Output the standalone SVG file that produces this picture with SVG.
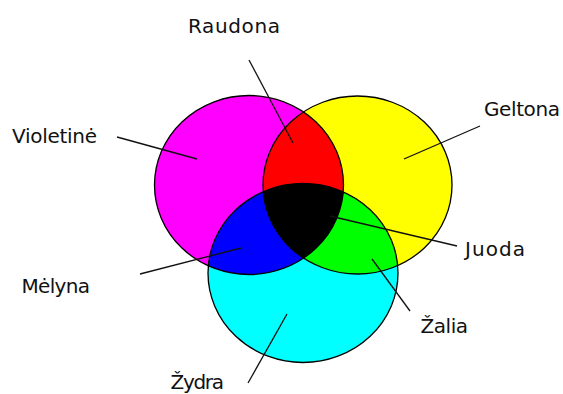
<svg xmlns="http://www.w3.org/2000/svg" width="563" height="394" viewBox="0 0 563 394">
<style>
.lbl{font-family:"DejaVu Sans",Verdana,sans-serif;font-size:20px;fill:#111}
.edge{fill:none;stroke:#000;stroke-width:1.3}
.lead{stroke:#111;stroke-width:1.3;fill:none}
</style>
<defs>
<ellipse id="eM" cx="249" cy="185" rx="94.5" ry="89.5"/>
<ellipse id="eY" cx="357.5" cy="185" rx="94.5" ry="89"/>
<ellipse id="eC" cx="303" cy="273" rx="95" ry="89.5"/>
<clipPath id="cM"><use href="#eM"/></clipPath>
<clipPath id="cY"><use href="#eY"/></clipPath>
</defs>
<rect width="563" height="394" fill="#fff"/>
<g id="violetine"><use href="#eM" fill="#FF00FF"/></g>
<g id="geltona"><use href="#eY" fill="#FFFF00"/></g>
<g id="zydra"><use href="#eC" fill="#00FFFF"/></g>
<g id="raudona"><use href="#eY" fill="#FF0000" clip-path="url(#cM)"/></g>
<g id="melyna"><use href="#eC" fill="#0000FF" clip-path="url(#cM)"/></g>
<g id="zalia"><use href="#eC" fill="#00FF00" clip-path="url(#cY)"/></g>
<g id="juoda"><g clip-path="url(#cM)"><use href="#eC" fill="#000" clip-path="url(#cY)"/></g></g>
<g id="outlines">
<use href="#eM" class="edge"/>
<use href="#eY" class="edge"/>
<use href="#eC" class="edge"/>
</g>
<g id="connectors">
<line class="lead" x1="249" y1="60" x2="293" y2="143"/>
<line class="lead" x1="117" y1="137" x2="197" y2="159"/>
<line class="lead" x1="480" y1="126" x2="404" y2="159"/>
<line class="lead" x1="330" y1="216" x2="457" y2="246"/>
<line class="lead" x1="372" y1="259" x2="410" y2="311"/>
<line class="lead" x1="287" y1="314" x2="248" y2="383"/>
<line class="lead" x1="140" y1="274" x2="241" y2="248"/>
</g>
<g id="labels">
<text class="lbl" x="188" y="32.5" textLength="92" lengthAdjust="spacing">Raudona</text>
<text class="lbl" x="12" y="142.5" textLength="85" lengthAdjust="spacing">Violetinė</text>
<text class="lbl" x="484" y="115.5" textLength="76" lengthAdjust="spacing">Geltona</text>
<text class="lbl" x="465" y="256" textLength="60" lengthAdjust="spacing">Juoda</text>
<text class="lbl" x="21.5" y="292.5" textLength="68.5" lengthAdjust="spacing">Mėlyna</text>
<text class="lbl" x="420.5" y="333" textLength="47.5" lengthAdjust="spacing">Žalia</text>
<text class="lbl" x="170.5" y="389" textLength="53.5" lengthAdjust="spacing">Žydra</text>
</g>
</svg>
